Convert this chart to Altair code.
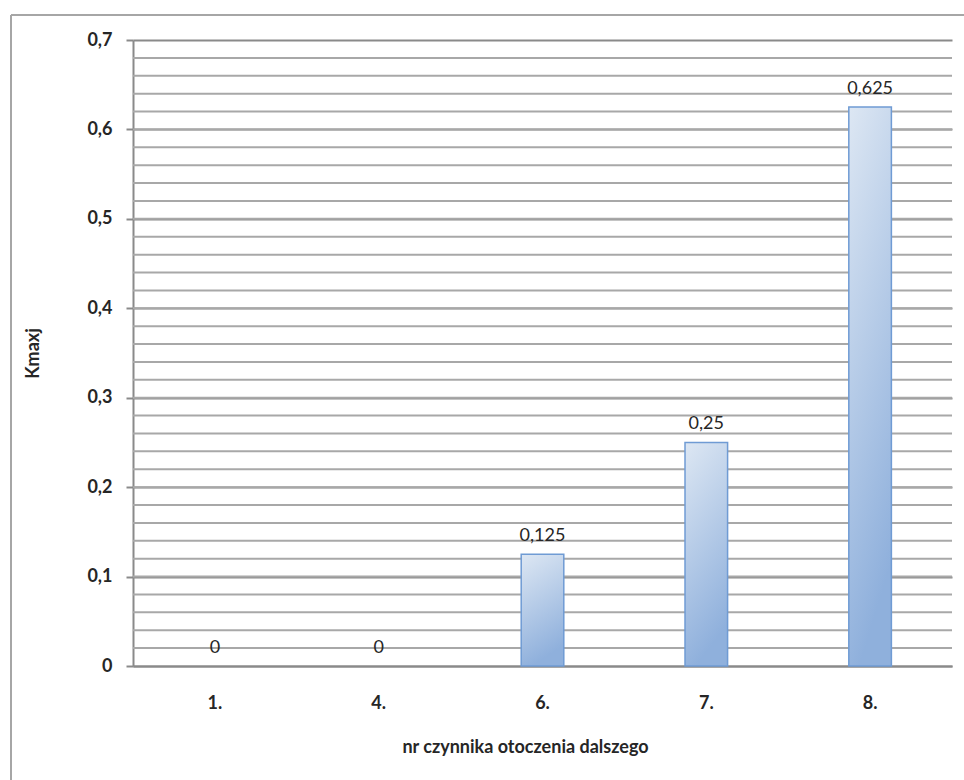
import altair as alt
import pandas as pd

# Kmaxj per environmental factor number
categories = ["1.", "4.", "6.", "7.", "8."]
values = [0, 0, 0.125, 0.25, 0.625]

df = pd.DataFrame({"nr": categories, "k": values})

FONT = "Lato"
TEXT = "#262626"
W, H = 819, 626

x_enc = alt.X(
    "nr:N",
    sort=categories,
    scale=alt.Scale(paddingInner=0.74, paddingOuter=0.37),
    axis=alt.Axis(
        title="nr czynnika otoczenia dalszego",
        labelAngle=0,
        ticks=False,
        labelPadding=28,
        labelFontSize=18,
        labelFontWeight="bold",
        labelColor=TEXT,
        labelFont=FONT,
        titleFont=FONT,
        titleFontSize=18,
        titleFontWeight="bold",
        titleColor=TEXT,
        titleX=392,
        titleY=81,
        titleBaseline="middle",
        domainColor="#8a8a8a",
        domainWidth=2,
        grid=False,
    ),
)

y_scale = alt.Scale(domain=[0, 0.7], nice=False)

# minor gridlines every 0.02
minor = (
    alt.Chart(alt.sequence(0.02, 0.7, 0.02, as_="g"))
    .mark_rule(color="#a8a8a8", strokeWidth=2)
    .encode(y=alt.Y("g:Q", scale=y_scale))
)

bars = (
    alt.Chart(df)
    .mark_bar(
        color=alt.Gradient(
            gradient="linear",
            x1=0, y1=0, x2=0.25, y2=1,
            stops=[
                alt.GradientStop(offset=0, color="#dde7f3"),
                alt.GradientStop(offset=1, color="#8fb0dc"),
            ],
        ),
        strokeWidth=1.5,
    )
    .encode(
        x=x_enc,
        y=alt.Y(
            "k:Q",
            scale=y_scale,
            axis=alt.Axis(
                title="Kmaxj",
                values=[0, 0.1, 0.2, 0.3, 0.4, 0.5, 0.6, 0.7],
                labelExpr="replace(format(datum.value, '.1~f'), '.', ',')",
                tickSize=7,
                tickColor="#8a8a8a",
                tickWidth=2,
                labelPadding=14,
                labelFontSize=18,
                labelFontWeight="bold",
                labelColor=TEXT,
                labelFont=FONT,
                titleFont=FONT,
                titleFontSize=18,
                titleFontWeight="bold",
                titleColor=TEXT,
                titleAngle=-90,
                titleX=-100,
                titleY=313,
                titleAlign="center",
                titleBaseline="middle",
                domainColor="#8a8a8a",
                domainWidth=2,
                grid=True,
                gridColor="#8a8a8a",
                gridWidth=2,
            ),
        ),
        stroke=alt.condition("datum.k > 0", alt.value("#6f9bd4"), alt.value("transparent")),
    )
)

labels = (
    alt.Chart(df)
    .transform_calculate(lbl="replace(toString(datum.k), '.', ',')")
    .mark_text(baseline="bottom", dy=-9, fontSize=18, font=FONT, color=TEXT)
    .encode(x=alt.X("nr:N", sort=categories), y=alt.Y("k:Q", scale=y_scale), text="lbl:N")
)

# outer chart frame (left and top edges)
frame_left = alt.Chart(df).mark_rule(color="#a6a6a6", strokeWidth=2).encode(
    x=alt.value(-122), y=alt.value(-25), y2=alt.value(740)
)
frame_top = alt.Chart(df).mark_rule(color="#a6a6a6", strokeWidth=2).encode(
    x=alt.value(-122), x2=alt.value(831), y=alt.value(-25)
)

chart = (
    alt.layer(minor, bars, labels, frame_left, frame_top)
    .properties(
        width=W,
        height=H,
        autosize=alt.AutoSizeParams(type="none"),
        padding={"left": 133, "top": 40, "right": 12, "bottom": 114},
        background="white",
    )
    .configure_view(stroke=None)
)

chart.save("out.html", embed_options={"renderer": "svg", "actions": False})
